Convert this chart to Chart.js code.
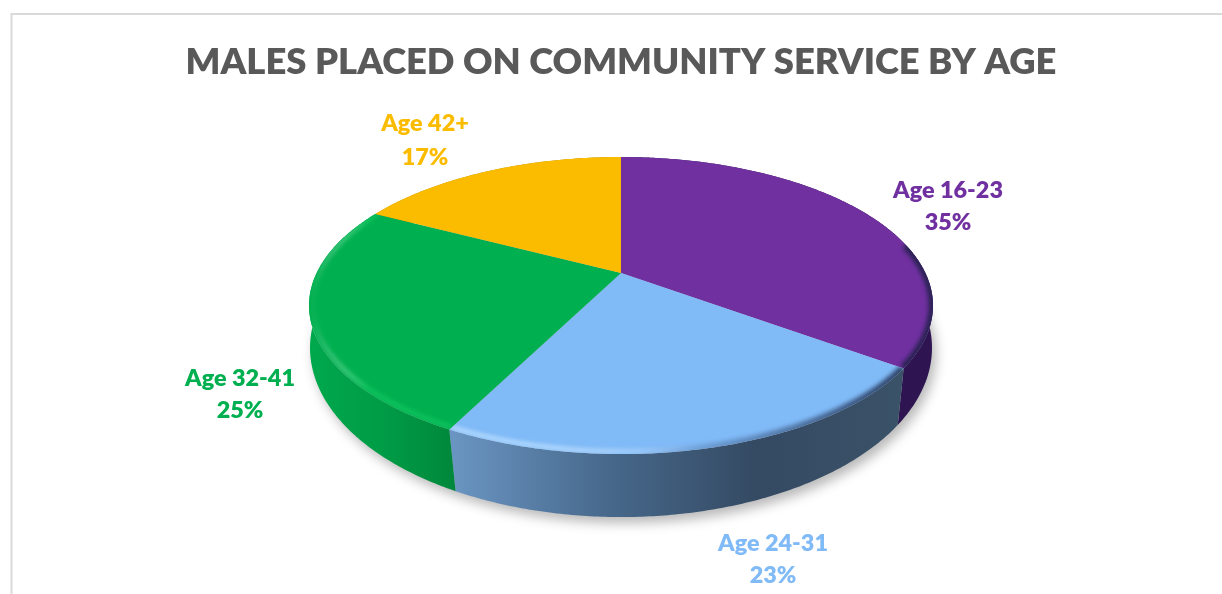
<!DOCTYPE html>
<html>
<head>
<meta charset="utf-8">
<style>
  html, body { margin: 0; padding: 0; background: #fff; overflow: hidden; }
  canvas { display: block; }
</style>
<script src="https://cdn.jsdelivr.net/npm/chart.js@4/dist/chart.umd.min.js"></script>
</head>
<body>
<canvas id="myChart" width="1222" height="594"></canvas>
<script>
// data
const categories = ['Age 16-23', 'Age 24-31', 'Age 32-41', 'Age 42+'];
const shares = [35, 22.5, 25.1, 17.4];

// styles
const topColors = ['#7030a0', '#80baf7', '#00b050', '#fbbc00'];
const textColors = ['#7030a0', '#80baf7', '#00b050', '#fbbc00'];
const highlightColors = [null, '#b8deff', '#10c560', null];
const sideStops = [
  [[0, '#2e1450'], [1, '#2e1450']],
  [[0, '#6a95c2'], [0.35, '#47688b'], [0.68, '#344a63'], [1, '#3a5268']],
  [[0, '#00a84c'], [0.55, '#009a45'], [1, '#00873b']],
  [[0, '#b08500'], [1, '#b08500']]
];
const sideRanges = [[800, 930], [452, 900], [312, 455], [300, 620]];

// ラベルの位置 (center x, name y, percent y)
const labelPlaces = [[948, 190, 222], [773, 543, 575], [240, 378, 410], [425, 123, 157]];

// 斜めから見た円の投影 (上面と底面)
const topFace = { y: 273, r: 304.4, b: 141.4, k: 0.219 };
const bottomFace = { y: 317.3, r: 305.9, b: 163.8, k: 0.18 };

function rim(cx, t, f, scale) {
  const u = Math.sin(t), v = -Math.cos(t), d = 1 - f.k * v;
  return [cx + scale * f.r * u / d, f.y + scale * f.b * v / d];
}
function angles(a, b) {
  const list = [];
  const n = Math.max(2, Math.ceil((b - a) / 0.01));
  for (let i = 0; i <= n; i++) list.push(a + (b - a) * i / n);
  return list;
}
function tracePts(ctx, pts, move) {
  pts.forEach((p, i) => {
    if (i === 0 && move) ctx.moveTo(p[0], p[1]); else ctx.lineTo(p[0], p[1]);
  });
}

const pie3d = {
  id: 'pie3d',
  beforeDraw(chart) {
    const ctx = chart.ctx;
    ctx.save();
    ctx.fillStyle = '#fff';
    ctx.fillRect(0, 0, chart.width, chart.height);
    ctx.strokeStyle = '#d9d9d9';
    ctx.lineWidth = 2;
    ctx.beginPath();
    ctx.moveTo(11.5, chart.height);
    ctx.lineTo(11.5, 14);
    ctx.lineTo(chart.width, 14);
    ctx.stroke();
    ctx.restore();
  },
  beforeDatasetsDraw(chart) {
    const ctx = chart.ctx;
    const arcs = chart.getDatasetMeta(0).data;
    const cx = arcs[0].x;
    const parts = arcs.map(a => [a.startAngle + Math.PI / 2, a.endAngle + Math.PI / 2]);

    // 影
    ctx.save();
    ctx.filter = 'blur(6px)';
    ctx.fillStyle = 'rgba(0,0,0,0.28)';
    ctx.beginPath();
    tracePts(ctx, angles(0, Math.PI * 2).map(t => {
      const p = rim(cx, t, bottomFace, 1);
      return [p[0] + 4, p[1] + 6];
    }), true);
    ctx.closePath();
    ctx.fill();
    ctx.restore();

    // 側面
    parts.forEach((p, i) => {
      const g = ctx.createLinearGradient(sideRanges[i][0], 0, sideRanges[i][1], 0);
      sideStops[i].forEach(s => g.addColorStop(s[0], s[1]));
      const ts = angles(p[0], p[1]);
      ctx.fillStyle = g;
      ctx.beginPath();
      tracePts(ctx, ts.map(t => rim(cx, t, topFace, 1)), true);
      tracePts(ctx, ts.slice().reverse().map(t => rim(cx, t, bottomFace, 1)), false);
      ctx.closePath();
      ctx.fill();
    });

    // 上面
    parts.forEach((p, i) => {
      const ts = angles(p[0], p[1]);
      const path = new Path2D();
      path.moveTo(cx, topFace.y);
      ts.forEach(t => {
        const q = rim(cx, t, topFace, 1);
        path.lineTo(q[0], q[1]);
      });
      path.closePath();
      ctx.fillStyle = topColors[i];
      ctx.fill(path);

      ctx.save();
      ctx.clip(path);
      // 右側の暗いふち (手前側だけ)
      const front = ts.filter(t => t > 1.35 && t < 3.6);
      if (front.length > 1) {
        const dark = ctx.createLinearGradient(640, 0, 900, 0);
        dark.addColorStop(0, 'rgba(20,30,60,0)');
        dark.addColorStop(1, 'rgba(20,30,60,0.75)');
        ctx.filter = 'blur(2px)';
        ctx.strokeStyle = dark;
        ctx.lineWidth = 9;
        ctx.beginPath();
        tracePts(ctx, front.map(t => rim(cx, t, topFace, 1)), true);
        ctx.stroke();
      }
      // 左側の明るいふち
      if (highlightColors[i]) {
        const hi = ctx.createLinearGradient(310, 0, 700, 0);
        hi.addColorStop(0, 'rgba(255,255,255,0)');
        hi.addColorStop(0.15, highlightColors[i]);
        hi.addColorStop(0.55, highlightColors[i]);
        hi.addColorStop(1, 'rgba(255,255,255,0)');
        ctx.filter = 'blur(2px)';
        ctx.strokeStyle = hi;
        ctx.lineWidth = 4;
        ctx.beginPath();
        tracePts(ctx, ts.map(t => {
          const q = rim(cx, t, topFace, 0.99);
          return [q[0], q[1] - 1];
        }), true);
        ctx.stroke();
      }
      ctx.restore();
    });

    // ラベル
    ctx.save();
    ctx.font = '800 23.4px Lato';
    ctx.textAlign = 'center';
    ctx.textBaseline = 'middle';
    categories.forEach((name, i) => {
      const place = labelPlaces[i];
      ctx.fillStyle = textColors[i];
      ctx.fillText(name, place[0], place[1]);
      ctx.fillText(Math.round(shares[i]) + '%', place[0], place[2]);
    });
    ctx.restore();
    return false;
  }
};

const ctx = document.getElementById('myChart').getContext('2d');
const chart = new Chart(ctx, {
  type: 'pie',
  data: {
    labels: categories,
    datasets: [{ data: shares, backgroundColor: topColors }]
  },
  options: {
    responsive: false,
    animation: false,
    events: [],
    layout: { padding: { left: 20, top: 40 } },
    plugins: {
      legend: { display: false },
      tooltip: { enabled: false },
      title: {
        display: true,
        text: 'MALES PLACED ON COMMUNITY SERVICE BY AGE',
        color: '#595959',
        font: { family: 'Lato', size: 36.4, weight: '800' },
        padding: { top: 0, bottom: 10 }
      }
    }
  },
  plugins: [pie3d]
});
</script>
</body>
</html>
